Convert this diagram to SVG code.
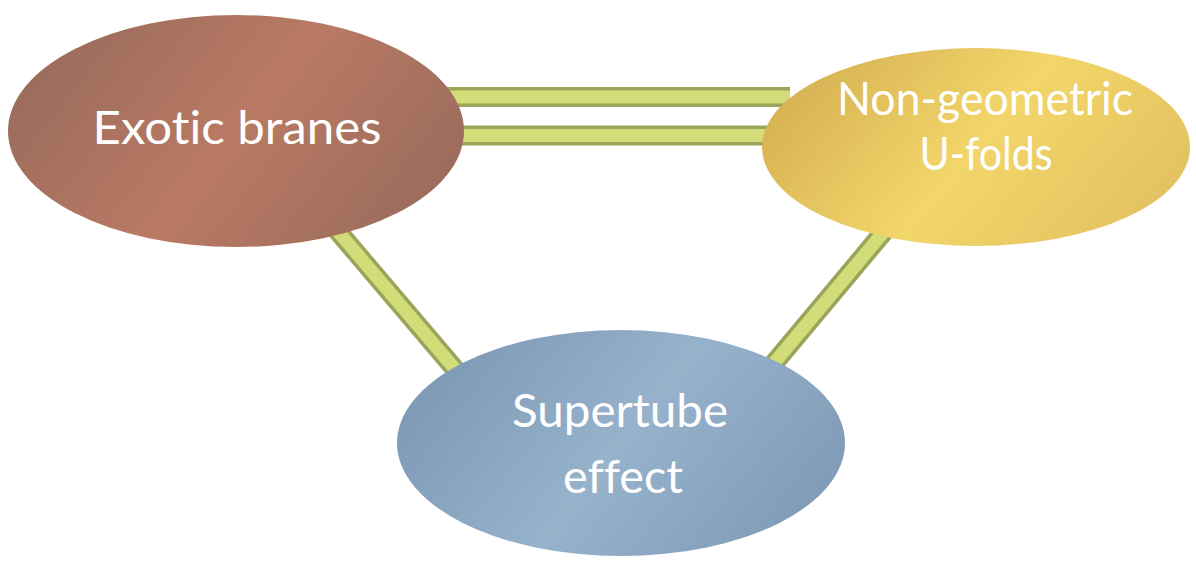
<svg xmlns="http://www.w3.org/2000/svg" width="1196" height="565" viewBox="0 0 1196 565">
<defs>
<linearGradient id="gRed" x1="0" y1="0.3" x2="1" y2="0.7">
<stop offset="0" stop-color="#9a6b5c"/>
<stop offset="0.5" stop-color="#b97a64"/>
<stop offset="1" stop-color="#9a6b5c"/>
</linearGradient>
<linearGradient id="gYel" x1="0" y1="0.3" x2="1" y2="0.7">
<stop offset="0" stop-color="#d6b052"/>
<stop offset="0.5" stop-color="#f2d66a"/>
<stop offset="1" stop-color="#e2c060"/>
</linearGradient>
<linearGradient id="gBlu" x1="0" y1="0.3" x2="1" y2="0.7">
<stop offset="0" stop-color="#7c98b4"/>
<stop offset="0.5" stop-color="#97b2cb"/>
<stop offset="1" stop-color="#7e9ab6"/>
</linearGradient>
<style>
.bo{stroke:#9aa55a;stroke-width:20;stroke-linecap:butt;fill:none}
.bi{stroke:#d2dc78;stroke-width:13;stroke-linecap:butt;fill:none}
.t{font-family:Lato,"Open Sans",sans-serif;font-size:46px;fill:#ffffff;text-anchor:middle;font-variant-ligatures:none}
</style>
</defs>
<g id="connectors">
<line class="bo" x1="440" y1="97" x2="790" y2="97"/>
<line class="bi" x1="440" y1="97" x2="790" y2="97"/>
<line class="bo" x1="440" y1="135.5" x2="790" y2="135.5"/>
<line class="bi" x1="440" y1="135.5" x2="790" y2="135.5"/>
<line class="bo" x1="330" y1="222" x2="460" y2="375"/>
<line class="bi" x1="330" y1="222" x2="460" y2="375"/>
<line class="bo" x1="892" y1="222" x2="770" y2="368"/>
<line class="bi" x1="892" y1="222" x2="770" y2="368"/>
</g>
<g id="exotic">
<ellipse cx="236" cy="131" rx="228" ry="116" fill="url(#gRed)"/>
<text class="t" x="237" y="144" textLength="289" lengthAdjust="spacingAndGlyphs">Exotic branes</text>
</g>
<g id="nongeo">
<ellipse cx="976" cy="147" rx="214" ry="99" fill="url(#gYel)"/>
<text class="t" x="985" y="115" textLength="296" lengthAdjust="spacingAndGlyphs">Non-geometric</text>
<text class="t" x="986" y="170" textLength="133" lengthAdjust="spacingAndGlyphs">U-folds</text>
</g>
<g id="supertube">
<ellipse cx="621" cy="443" rx="224" ry="113" fill="url(#gBlu)"/>
<text class="t" x="620" y="427" textLength="216" lengthAdjust="spacingAndGlyphs">Supertube</text>
<text class="t" x="623" y="493" textLength="120" lengthAdjust="spacingAndGlyphs">effect</text>
</g>
</svg>
